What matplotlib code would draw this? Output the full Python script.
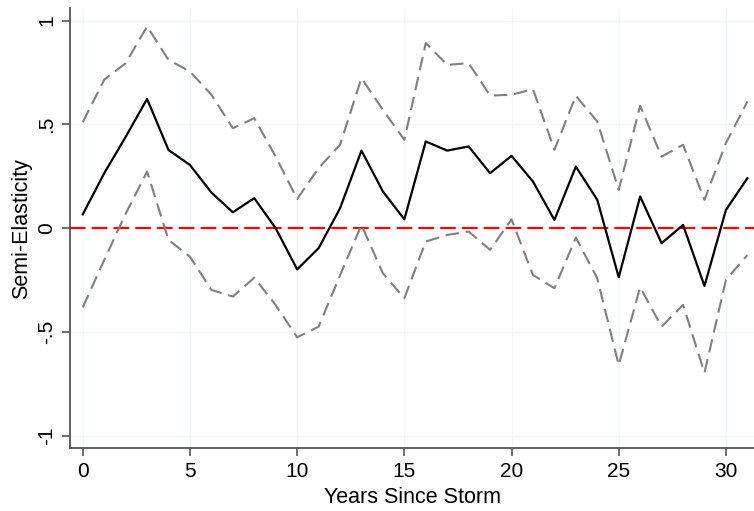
import numpy as np
import matplotlib
matplotlib.use("Agg")
import matplotlib.pyplot as plt

plt.rcParams['font.family'] = ['Liberation Sans', 'DejaVu Sans']

years = np.arange(0, 32)

estimate = [0.067, 0.265, 0.44, 0.623, 0.377, 0.305, 0.172, 0.077, 0.145, 0.0,
            -0.198, -0.096, 0.096, 0.374, 0.177, 0.043, 0.418, 0.374, 0.394, 0.265,
            0.349, 0.225, 0.040, 0.297, 0.137, -0.236, 0.153, -0.072, 0.016, -0.278,
            0.088, 0.241]

upper = [0.511, 0.715, 0.795, 0.972, 0.811, 0.755, 0.643, 0.482, 0.530, 0.345,
         0.141, 0.29, 0.402, 0.723, 0.570, 0.426, 0.892, 0.787, 0.795, 0.639,
         0.643, 0.670, 0.378, 0.638, 0.514, 0.185, 0.590, 0.345, 0.402, 0.137,
         0.410, 0.610]

lower = [-0.381, -0.153, 0.07, 0.273, -0.056, -0.137, -0.297, -0.329, -0.238, -0.37,
         -0.525, -0.474, -0.227, 0.016, -0.217, -0.337, -0.064, -0.032, -0.016, -0.104,
         0.043, -0.225, -0.289, -0.045, -0.241, -0.659, -0.284, -0.474, -0.369, -0.696,
         -0.249, -0.129]

yticks = [-1, -0.5, 0, 0.5, 1]
ytick_labels = ['-1', '-.5', '0', '.5', '1']
xticks = [0, 5, 10, 15, 20, 25, 30]

fig = plt.figure(figsize=(7.54, 5.11), dpi=100)
ax = fig.add_axes([0.093, 0.123, 0.907, 0.861])

ax.plot(years, upper, color='#808080', lw=1.5, dashes=(6.5, 3.3))
ax.plot(years, lower, color='#808080', lw=1.5, dashes=(6.5, 3.3))
ax.plot(years, estimate, color='black', lw=1.6)
ax.axhline(0, color='#ff0000', lw=1.6, dashes=(7, 2.8), zorder=1)

ax.set_xlim(-0.59, 31.31)
ax.set_ylim(-1.059, 1.06)
ax.set_xticks(xticks)
ax.set_yticks(yticks)
ax.set_yticklabels(ytick_labels, rotation=90, va='center')
ax.grid(True, color='#f1f7f7', lw=1)
ax.set_axisbelow(True)

for s in ['top', 'right']:
    ax.spines[s].set_visible(False)
for s in ['left', 'bottom']:
    ax.spines[s].set_color('#555555')
    ax.spines[s].set_linewidth(1.3)
ax.tick_params(colors='#555555', labelcolor='black', labelsize=15, length=6, width=1.2)
ax.tick_params(axis='y', pad=4)
ax.tick_params(axis='x', pad=4)

ax.set_xlabel('Years Since Storm', fontsize=15.5, labelpad=4)
ax.set_ylabel('Semi-Elasticity', fontsize=15.5, labelpad=4)

fig.savefig('out.png', dpi=100)
